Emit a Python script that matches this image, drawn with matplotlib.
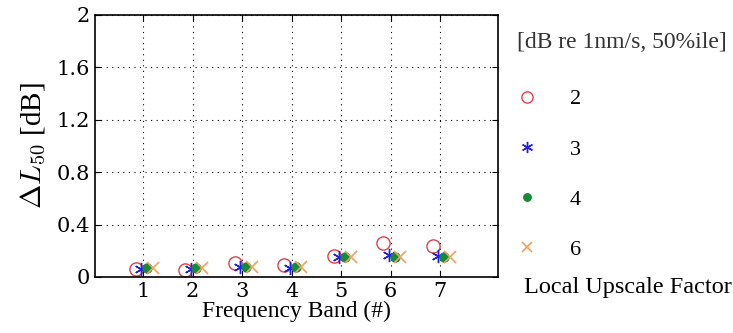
import matplotlib
matplotlib.use("Agg")
import matplotlib.pyplot as plt
from matplotlib.lines import Line2D

plt.rcParams['font.family'] = ['Liberation Serif', 'DejaVu Serif']
plt.rcParams['mathtext.fontset'] = 'cm'

bands = [1, 2, 3, 4, 5, 6, 7]
factors = ['2', '3', '4', '6']
vals_2 = [0.06, 0.05, 0.11, 0.09, 0.16, 0.26, 0.24]
vals_3 = [0.06, 0.06, 0.08, 0.07, 0.15, 0.17, 0.16]
vals_4 = [0.07, 0.07, 0.08, 0.08, 0.15, 0.15, 0.15]
vals_6 = [0.07, 0.07, 0.08, 0.08, 0.15, 0.15, 0.15]
yticks = [0, 0.4, 0.8, 1.2, 1.6, 2]
ytick_labels = ['0', '0.4', '0.8', '1.2', '1.6', '2']

fig = plt.figure(figsize=(7.33, 3.33), dpi=100)
ax = fig.add_axes([95/733, 56/333, 403/733, 262/333])

asterisk = (6, 2, 0)
styles = [
    dict(marker='o', mfc='none', mec='#e0404a', ms=9.5, mew=1.0, offset=-0.15),
    dict(marker=asterisk, mfc='#2020e0', mec='#2020e0', ms=9.5, mew=1.0, offset=-0.04),
    dict(marker='o', mfc='#158a3a', mec='#158a3a', ms=7.5, mew=0, offset=0.08),
    dict(marker='x', mfc='#f0a060', mec='#f0a060', ms=9, mew=1.2, offset=0.2),
]
series = [vals_2, vals_3, vals_4, vals_6]
handles = []
for vals, st in zip(series, styles):
    xs = [b + st['offset'] for b in bands]
    ax.plot(xs, vals, linestyle='none', marker=st['marker'], mfc=st['mfc'],
            mec=st['mec'], ms=st['ms'], mew=st['mew'])
    handles.append(Line2D([], [], linestyle='none', marker=st['marker'], mfc=st['mfc'],
                          mec=st['mec'], ms=st['ms'] * 0.85, mew=st['mew']))

ax.set_xlim(0.03, 8.17)
ax.set_ylim(0, 2)
ax.set_xticks(bands)
ax.set_yticks(yticks)
ax.set_yticklabels(ytick_labels)
ax.tick_params(direction='in', top=True, right=True, length=4)
for lbl in ax.get_xticklabels() + ax.get_yticklabels():
    lbl.set_fontfamily('DejaVu Serif')
    lbl.set_fontsize(15)
ax.grid(True, color='black', linestyle=(0, (1, 4)), linewidth=0.8)
for sp in ax.spines.values():
    sp.set_linewidth(1.2)
ax.set_xlabel('Frequency Band (#)', fontsize=17, labelpad=0)
ax.set_ylabel(r'$\Delta L_{50}$ [dB]', fontsize=21, labelpad=6)

fig.text(517/733, 1 - 42/333, '[dB re 1nm/s, 50%ile]', fontsize=17,
         color='#333333', va='center', ha='left')
leg = fig.legend(handles, factors, loc='upper left', bbox_to_anchor=(501/733, 1 - 80/333),
                 frameon=False, fontsize=16, labelspacing=1.33, handletextpad=1.2,
                 handlelength=1.5, borderaxespad=0)
fig.text(524/733, 1 - 287/333, 'Local Upscale Factor', fontsize=17.5,
         va='center', ha='left')

fig.savefig('out.png', dpi=100)
